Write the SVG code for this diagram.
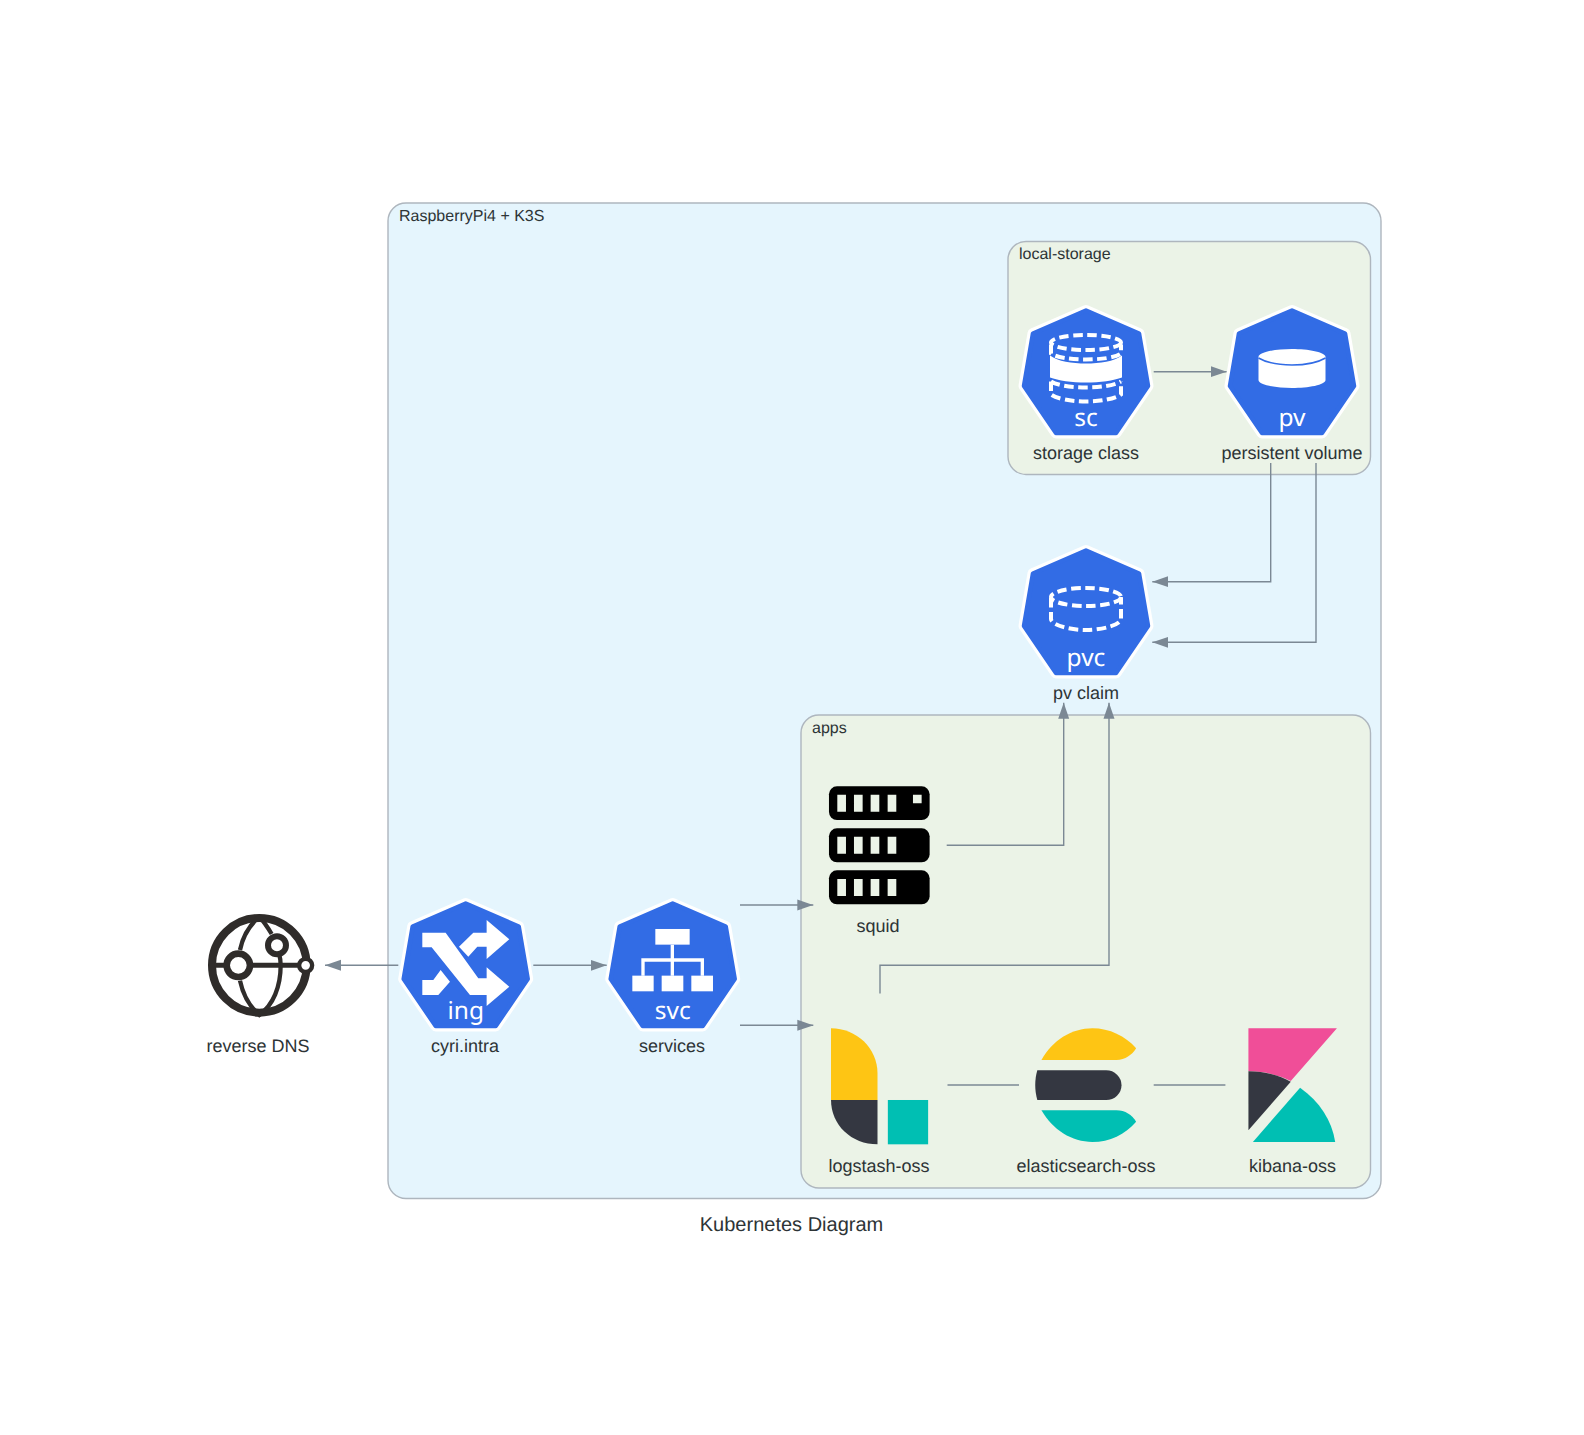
<svg xmlns="http://www.w3.org/2000/svg" width="1584" height="1435" viewBox="0 0 1584 1435">
<style>
text{text-rendering:geometricPrecision}
.cl{stroke:#AEB6BE;stroke-width:1.4}
.t{font-family:"Liberation Sans",Arial,sans-serif;font-size:18px;fill:#2D3436;text-anchor:middle}
.ct{font-family:"Liberation Sans",Arial,sans-serif;font-size:16px;fill:#2D3436}
.k{font-family:"Noto Sans",sans-serif;font-size:24.5px;fill:#fff;text-anchor:middle}
.e{fill:none;stroke:#7B8894;stroke-width:1.4}
.d{fill:none;stroke:#fff;stroke-width:4;stroke-dasharray:9.5 4.5}
</style>
<defs>
<marker id="a" markerUnits="userSpaceOnUse" markerWidth="16" markerHeight="12" refX="16" refY="6" orient="auto"><path d="M0,0.5 L16,6 L0,11.5Z" fill="#7B8894"/></marker>
<g id="hep">
<polygon points="0,5.500 53,28.500 62,81 30,128 -30,128 -62,81 -53,28.500" fill="#fff" stroke="#fff" stroke-width="11" stroke-linejoin="round"/>
<polygon points="0,5.500 53,28.500 62,81 30,128 -30,128 -62,81 -53,28.500" fill="#326CE5" stroke="#326CE5" stroke-width="4.500" stroke-linejoin="round"/>
</g>
</defs>
<rect width="1584" height="1435" fill="#fff"/>
<text class="t" x="791.500" y="1231" style="font-size:20px">Kubernetes Diagram</text>
<g id="cluster-raspberry"><rect class="cl" x="388" y="203" width="993" height="995.500" rx="18" fill="#E5F5FD"/><text class="ct" x="399" y="221">RaspberryPi4 + K3S</text></g>
<g id="cluster-local-storage"><rect class="cl" x="1008" y="241.500" width="362.500" height="233" rx="18" fill="#EBF3E7"/><text class="ct" x="1019" y="259">local-storage</text></g>
<g id="cluster-apps"><rect class="cl" x="801" y="715" width="569.500" height="473" rx="18" fill="#EBF3E7"/><text class="ct" x="812" y="733">apps</text></g>
<g id="connectors">
<path class="e" marker-end="url(#a)" d="M398.300,965.300H325"/>
<path class="e" marker-end="url(#a)" d="M533.300,965.300H606.700"/>
<path class="e" marker-end="url(#a)" d="M740,905H813.300"/>
<path class="e" marker-end="url(#a)" d="M740,1025.300H813.300"/>
<path class="e" marker-end="url(#a)" d="M1153.700,371.700H1226.700"/>
<path class="e" marker-end="url(#a)" d="M1270.700,463V581.700H1152.300"/>
<path class="e" marker-end="url(#a)" d="M1316,463V642.300H1152.300"/>
<path class="e" marker-end="url(#a)" d="M946.700,845.300H1063.700V702.700"/>
<path class="e" marker-end="url(#a)" d="M880,993.500V965.300H1109V702.700"/>
<path class="e" d="M947.500,1085H1019"/>
<path class="e" d="M1153.700,1085H1225.400"/>
</g>
<g id="reverse-dns">
<g transform="translate(190,890) scale(.3333)" fill="none" stroke="#2F2C2A">
<circle cx="208" cy="226" r="142" stroke-width="24" fill="#fff"/>
<path d="M150,180C160,130 185,100 208,80M245,132C235,115 222,95 208,80M150,272C160,320 185,355 208,375C250,345 272,290 272,226C272,215 271,205 268,195" stroke-width="13"/>
<path d="M75,226H340" stroke-width="15"/>
<circle cx="145" cy="226" r="35" stroke-width="20" fill="#fff"/>
<circle cx="261" cy="166" r="27" stroke-width="18" fill="#fff"/>
<circle cx="347" cy="226" r="19.500" stroke-width="13" fill="#fff"/>
</g>
<text class="t" x="258" y="1052">reverse DNS</text>
</g>
<g id="ing">
<use href="#hep" x="465.700" y="898"/>
<g transform="translate(190,890) scale(.3333)" fill="#fff">
<path d="M697,128H767L865,265H890V232L958,290L890,348V315H840L725,172H697Z"/>
<path d="M807,170L850,128H890V90L958,148L890,207V170H862L835,200Z"/>
<path d="M697,270H730L752,240L780,275L745,315H697Z"/>
</g>
<text class="k" x="465.700" y="1019">ing</text>
<text class="t" x="465" y="1052">cyri.intra</text>
</g>
<g id="svc">
<use href="#hep" x="672.700" y="898"/>
<g transform="translate(590,770) scale(.3333)">
<g fill="#fff"><rect x="196" y="477" width="103" height="47"/><rect x="127" y="617" width="64" height="47"/><rect x="215" y="617" width="65" height="47"/><rect x="304" y="617" width="65" height="47"/></g>
<path d="M247,524V617M159,617V570H337V617" fill="none" stroke="#fff" stroke-width="10"/>
</g>
<text class="k" x="672.700" y="1019">svc</text>
<text class="t" x="672" y="1052">services</text>
</g>
<g id="sc">
<use href="#hep" x="1086" y="305"/>
<g transform="translate(1086,306.500)">
<ellipse class="d" cx="0" cy="36" rx="35" ry="7.500"/>
<path class="d" d="M-35,38V47C-30,51 -15,53 0,53C15,53 30,51 35,47V38"/>
<path d="M-36,49C-28,55 -14,57 0,57C14,57 28,55 36,49V71C28,74 14,76 0,76C-14,76 -28,74 -36,71Z" fill="#fff"/>
<path class="d" d="M-35,75C-28,79 -14,81 0,81C14,81 28,79 35,75M-35,75V88C-30,92 -15,95 0,95C15,95 30,92 35,88V75"/>
</g>
<text class="k" x="1086" y="426">sc</text>
<text class="t" x="1086" y="459">storage class</text>
</g>
<g id="pv">
<use href="#hep" x="1292" y="305"/>
<g transform="translate(1292,305)">
<path d="M-33.500,52C-33.500,47 -16,44 0,44C16,44 33.500,47 33.500,52V75C33.500,80 16,83 0,83C-16,83 -33.500,80 -33.500,75Z" fill="#fff"/>
<path d="M-33.500,53C-25,58 -12,60 0,60C12,60 25,58 33.500,53" fill="none" stroke="#326CE5" stroke-width="1.500"/>
</g>
<text class="k" x="1292" y="426">pv</text>
<text class="t" x="1292" y="459">persistent volume</text>
</g>
<g id="pvc">
<use href="#hep" x="1086" y="545"/>
<g transform="translate(1086,545)">
<ellipse class="d" cx="0" cy="52" rx="35" ry="9"/>
<path class="d" d="M-35,53V74C-35,80 -16,85 0,85C16,85 35,80 35,74V53"/>
</g>
<text class="k" x="1086" y="666">pvc</text>
<text class="t" x="1086" y="699">pv claim</text>
</g>
<g id="squid">
<g transform="translate(590,770) scale(.3333)">
<rect x="717" y="49" width="302" height="101" rx="24"/><rect x="717" y="175" width="302" height="102" rx="24"/><rect x="717" y="301" width="302" height="102" rx="24"/>
<g fill="#EBF3E7">
<path d="M742,74h26v51h-26zM792,74h26v51h-26zM842,74h26v51h-26zM893,74h26v51h-26zM969,74h26v26h-26z"/>
<path d="M742,200h26v51h-26zM792,200h26v51h-26zM842,200h26v51h-26zM893,200h26v51h-26z"/>
<path d="M742,327h26v51h-26zM792,327h26v51h-26zM842,327h26v51h-26zM893,327h26v51h-26z"/>
</g>
</g>
<text class="t" x="878" y="932">squid</text>
</g>
<g id="logstash">
<g transform="translate(810,1010) scale(.3444,.3333)">
<path d="M61,55C135,55 196,115 196,190V270H61Z" fill="#FEC514"/>
<path d="M61,270H196V403C120,403 61,345 61,270Z" fill="#343741"/>
<rect x="226" y="270" width="117" height="133" fill="#00BFB3"/>
</g>
<text class="t" x="879" y="1172">logstash-oss</text>
</g>
<g id="elasticsearch">
<g transform="translate(810,1010) scale(.3444,.3333)">
<path d="M672,150C705,90 760,55 820,55C870,55 915,78 947,115C935,135 915,150 890,150Z" fill="#FEC514"/>
<path d="M660,181H860A44.500,44.500 0 0 1 860,270H660C652,240 652,210 660,181Z" fill="#343741"/>
<path d="M672,301H890C915,301 935,315 947,335C915,373 870,396 820,396C760,396 705,360 672,301Z" fill="#00BFB3"/>
</g>
<text class="t" x="1086" y="1172">elasticsearch-oss</text>
</g>
<g id="kibana">
<g transform="translate(810,1010) scale(.3444,.3333)">
<path d="M1273,55H1530L1396,213C1360,195 1320,184 1273,184Z" fill="#F04E98"/>
<path d="M1273,184C1320,184 1360,195 1396,215L1273,361Z" fill="#343741"/>
<path d="M1423,233C1480,275 1515,330 1525,396H1286Z" fill="#00BFB3"/>
</g>
<text class="t" x="1292.500" y="1172">kibana-oss</text>
</g>
</svg>
